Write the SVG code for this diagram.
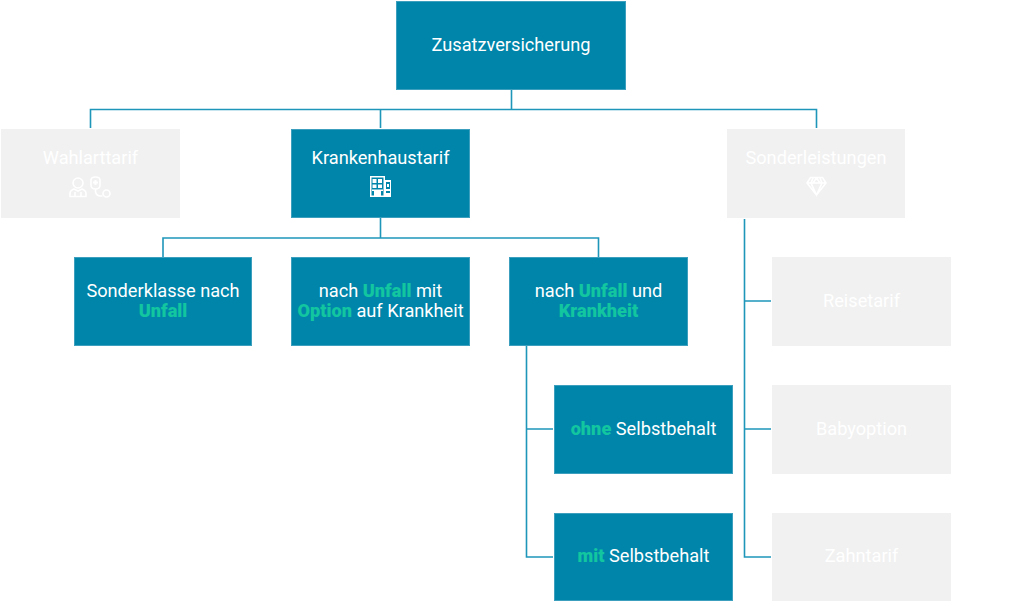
<svg xmlns="http://www.w3.org/2000/svg" width="1024" height="602" viewBox="0 0 1024 602">
<style>
.box{fill:#0085AA;stroke:#3b9fbd;stroke-width:1}
.mute{fill:#F1F1F1}
text{font-family:Roboto,"Liberation Sans",sans-serif;font-size:18.2px;text-anchor:middle;fill:#fff}
.g{font-weight:900;fill:#12C6A0}
.c{fill:none;stroke:#1E96BA;stroke-width:1.6}
.ic{fill:none;stroke:#fff;stroke-width:1.6}
.if{fill:#fff}
.d{fill:#0085AA}
</style>
<rect width="1024" height="602" fill="#fff"/>
<g id="connectors">
<path class="c" d="M511.500 90V109.500M90.500 128V109.500H816.500V128M380.500 109.500V128"/>
<path class="c" d="M380.500 218V238M163 257V238H598.500V257"/>
<path class="c" d="M526.500 346V557H553M526.500 429H553"/>
<path class="c" d="M744.500 219V557H771M744.500 301H771M744.500 429H771"/>
</g>
<g id="zusatz"><rect class="box" x="396.500" y="1.500" width="229" height="88"/><text x="511" y="51">Zusatzversicherung</text></g>
<g id="wahlarttarif"><rect class="mute" x="1" y="129" width="179" height="89"/><text x="90.500" y="164">Wahlarttarif</text>
<g class="ic"><circle cx="78" cy="183" r="5"/><path d="M70 196.500v-3q0-3 4-4.500l4 2 4-2q4 1.500 4 4.500v3zM75 192v4M81 192v4"/><path d="M91 180q0-3 4.500-3t4.500 3v5q0 4-4.500 4t-4.500-4z"/><path d="M95.500 189v3q1 4 5 4h2"/><circle cx="106.500" cy="193.500" r="3.500"/></g><path class="if" d="M94.500 180h2v1.500h1.500v2h-1.500v1.500h-2v-1.500h-1.500v-2h1.500z"/></g>
<g id="krankenhaustarif"><rect class="box" x="291.500" y="129.500" width="178" height="88"/><text x="380.500" y="164">Krankenhaustarif</text>
<g id="hospital-icon"><rect class="if" x="370" y="176" width="15" height="21"/><rect class="if" x="385" y="180" width="6" height="17"/>
<rect class="d" x="371.500" y="177.500" width="12" height="18"/>
<rect class="if" x="372.500" y="179" width="4" height="4"/><rect class="if" x="378" y="179" width="4" height="4"/>
<rect class="if" x="372.500" y="184.500" width="4" height="3.500"/><rect class="if" x="378" y="184.500" width="4" height="3.500"/>
<rect class="if" x="372" y="189.500" width="11" height="1.500"/><rect class="if" x="374" y="191" width="7" height="5"/>
<rect class="d" x="386" y="182" width="4" height="7"/><rect class="if" x="387" y="184" width="2" height="3"/><rect class="d" x="386" y="191" width="4" height="2"/></g></g>
<g id="sonderleistungen"><rect class="mute" x="727" y="129" width="178" height="89"/><text x="816" y="164">Sonderleistungen</text>
<g class="ic"><path d="M810.500 177.500h12l3.500 5.500-9.500 12-9.500-12zM807 183h19M813 178l-2 5 5.500 12 5.500-12-2-5M813 183l3.500-5 3.500 5"/></g></g>
<g id="sonderklasse"><rect class="box" x="74.500" y="257.500" width="177" height="88"/><text x="163" y="296.500">Sonderklasse nach</text><text x="163" y="316.500" class="g">Unfall</text></g>
<g id="unfall-option"><rect class="box" x="291.500" y="257.500" width="178" height="88"/><text x="380.500" y="296.500">nach <tspan class="g">Unfall</tspan> mit</text><text x="380.500" y="316.500"><tspan class="g">Option</tspan> auf Krankheit</text></g>
<g id="unfall-krankheit"><rect class="box" x="509.500" y="257.500" width="178" height="88"/><text x="598.500" y="296.500">nach <tspan class="g">Unfall</tspan> und</text><text x="598.500" y="316.500" class="g">Krankheit</text></g>
<g id="ohne"><rect class="box" x="554.500" y="385.500" width="178" height="88"/><text x="643.500" y="434.500"><tspan class="g">ohne</tspan> Selbstbehalt</text></g>
<g id="mit"><rect class="box" x="554.500" y="513.500" width="178" height="87"/><text x="643.500" y="561.500"><tspan class="g">mit</tspan> Selbstbehalt</text></g>
<g id="reisetarif"><rect class="mute" x="772" y="257" width="179" height="89"/><text x="861.500" y="306.500">Reisetarif</text></g>
<g id="babyoption"><rect class="mute" x="772" y="385" width="179" height="89"/><text x="861.500" y="434.500">Babyoption</text></g>
<g id="zahntarif"><rect class="mute" x="772" y="513" width="179" height="88"/><text x="861.500" y="561.500">Zahntarif</text></g>
</svg>
